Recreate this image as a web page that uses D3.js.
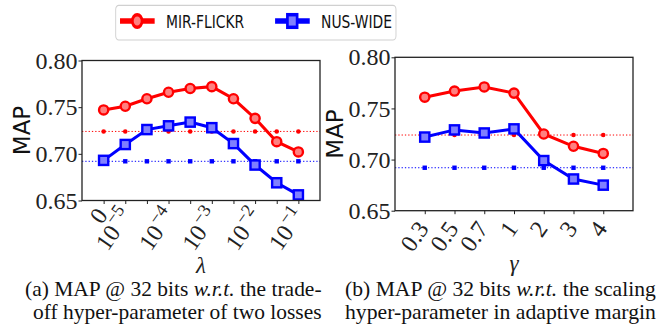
<!DOCTYPE html>
<html><head><meta charset="utf-8">
<script src="https://cdn.jsdelivr.net/npm/d3@7"></script>
<style>body{margin:0;background:#fff}svg{display:block}
.serif{font-family:"Liberation Serif","Times New Roman",serif}
.sans{font-family:"DejaVu Sans",sans-serif}
</style>
</head><body>
<svg id="c" width="661" height="325"></svg>
<script>
// ---- data ----
const seriesNames = ["MIR-FLICKR", "NUS-WIDE"];
const lambdaCats = ["0","1e-5","5e-5","1e-4","5e-4","1e-3","5e-3","1e-2","5e-2","1e-1"];
const lambdaTickLabels = [["0",""],["10","−5"],null,["10","−4"],null,["10","−3"],null,["10","−2"],null,["10","−1"]];
const mirLambda = [0.747,0.751,0.759,0.766,0.770,0.772,0.759,0.738,0.713,0.702];
const nusLambda = [0.693,0.710,0.726,0.730,0.734,0.728,0.711,0.688,0.669,0.656];
const gammaCats = ["0.3","0.5","0.7","1","2","3","4"];
const mirGamma = [0.761,0.767,0.771,0.765,0.725,0.713,0.706];
const nusGamma = [0.722,0.729,0.726,0.730,0.699,0.681,0.675];
const mirBaseline = 0.724;
const nusBaseline = 0.692;
const yTicks = [0.65,0.70,0.75,0.80];

const RED = "#ff0000", BLUE = "#0000ff";
const svg = d3.select("#c");

function panel(opt){
  const g = svg.append("g");
  const n = opt.cats.length;
  const x = d3.scaleLinear().domain([-1, n]).range([opt.x0, opt.x1]);
  const y = d3.scaleLinear().domain([0.65, 0.80]).range([opt.y0, opt.y1]);
  // reference dotted lines
  [[mirBaseline, RED, "c"], [nusBaseline, BLUE, "s"]].forEach(([v, col, shp]) => {
    g.append("line").attr("x1", opt.x0).attr("x2", opt.x1)
      .attr("y1", y(v)).attr("y2", y(v))
      .attr("stroke", col).attr("stroke-width", 1).attr("stroke-dasharray", "1.3,2");
    opt.cats.forEach((c, i) => {
      if (shp === "c") g.append("circle").attr("cx", x(i)).attr("cy", y(v)).attr("r", 2.3).attr("fill", col);
      else g.append("rect").attr("x", x(i)-2.2).attr("y", y(v)-2.2).attr("width", 4.4).attr("height", 4.4).attr("fill", col);
    });
  });
  const line = d3.line().x((d,i)=>x(i)).y(d=>y(d));
  g.append("path").datum(opt.mir).attr("d", line).attr("fill","none").attr("stroke",RED).attr("stroke-width",3);
  g.selectAll(null).data(opt.mir).enter().append("circle")
    .attr("cx",(d,i)=>x(i)).attr("cy",d=>y(d)).attr("r",4.6)
    .attr("fill","#ff8080").attr("stroke",RED).attr("stroke-width",2.4);
  g.append("path").datum(opt.nus).attr("d", line).attr("fill","none").attr("stroke",BLUE).attr("stroke-width",3);
  g.selectAll(null).data(opt.nus).enter().append("rect")
    .attr("x",(d,i)=>x(i)-4.6).attr("y",d=>y(d)-4.6).attr("width",9.2).attr("height",9.2)
    .attr("fill","#8080ff").attr("stroke",BLUE).attr("stroke-width",2.4);
  // frame
  g.append("rect").attr("x",opt.x0).attr("y",opt.y1).attr("width",opt.x1-opt.x0).attr("height",opt.y0-opt.y1)
    .attr("fill","none").attr("stroke","#222").attr("stroke-width",1.3);
  // y axis
  const ya = g.append("g").attr("transform",`translate(${opt.x0},0)`)
    .call(d3.axisLeft(y).tickValues(yTicks).tickFormat(d3.format(".2f")).tickSize(3.5).tickPadding(1));
  ya.select(".domain").remove();
  ya.attr("font-family", null).attr("font-size", null);
  ya.selectAll("text").attr("class","serif").style("font-size","24px").attr("fill","#222");
  // x axis
  const xa = g.append("g").attr("transform",`translate(0,${opt.y0})`)
    .call(d3.axisBottom(x).tickValues(d3.range(n)).tickFormat("").tickSize(3.5));
  xa.select(".domain").remove();
  xa.selectAll("line").attr("stroke","#222");
  ya.selectAll("line").attr("stroke","#222");
  // x tick labels
  opt.labels.forEach((lab, i) => {
    if (!lab) return;
    const sup = !!lab[1];
    const t = g.append("text").attr("class","serif")
      .attr("transform",`translate(${x(i)+(sup?opt.lxs:opt.lx)},${opt.y0+(sup?opt.lys:opt.ly)}) rotate(-55)`)
      .attr("text-anchor","end").style("font-size","24px").attr("fill","#222");
    t.append("tspan").text(lab[0]);
    if (sup) t.append("tspan").style("font-size","18px").attr("dx",1.5).attr("dy",-10).text(lab[1]);
  });
  // y label
  g.append("text").attr("transform",`translate(${opt.mapX},${(opt.y0+opt.y1)/2}) rotate(-90)`)
    .attr("text-anchor","middle").attr("class","sans").style("font-size","23px")
    .attr("fill","#111").text("MAP");
  // x label
  g.append("text").attr("x",(opt.x0+opt.x1)/2).attr("y",opt.xlY).attr("text-anchor","middle")
    .attr("class","serif").style("font-style","italic").style("font-size","23px")
    .attr("fill","#222").text(opt.xlabel);
}

panel({cats: lambdaCats, labels: lambdaTickLabels, mir: mirLambda, nus: nusLambda,
  x0: 82, x1: 320, y0: 200.5, y1: 60.5, lx: 5, ly: 15, lxs: 8, lys: 15, mapX: 30, xlabel: "λ", xlY: 273});
panel({cats: gammaCats, labels: gammaCats.map(c=>[c,""]), mir: mirGamma, nus: nusGamma,
  x0: 395, x1: 633, y0: 210.7, y1: 57.3, lx: 5, ly: 18, lxs: 5, lys: 18, mapX: 343, xlabel: "γ", xlY: 271});

// legend (horizontally compressed like the reference)
const lg = svg.append("g").attr("transform","translate(115.7,5.3) scale(0.77,1)");
lg.append("rect").attr("x",0).attr("y",0).attr("width",364).attr("height",34.7).attr("rx",4)
  .attr("fill","#fff").attr("stroke","#d0d0d0").attr("stroke-width",1.2);
const legItems = [
  {name: seriesNames[0], col: RED, shp: "c", x: 5.6},
  {name: seriesNames[1], col: BLUE, shp: "s", x: 207}
];
legItems.forEach(it => {
  lg.append("line").attr("x1",it.x).attr("x2",it.x+45).attr("y1",15.7).attr("y2",15.7)
    .attr("stroke",it.col).attr("stroke-width",5.5);
  if (it.shp === "c") lg.append("ellipse").attr("cx",it.x+22.3).attr("cy",15.7).attr("rx",6.3).attr("ry",6.3)
    .attr("fill","#ff8080").attr("stroke",it.col).attr("stroke-width",3.5);
  else lg.append("rect").attr("x",it.x+22.3-6.3).attr("y",15.7-6.3).attr("width",12.6).attr("height",12.6)
    .attr("fill","#8080ff").attr("stroke",it.col).attr("stroke-width",3.5);
  lg.append("text").attr("x",it.x+59.7).attr("y",22.6).attr("class","sans")
    .style("font-size","18px").attr("fill","#111").text(it.name);
});

// captions
function caption(parts, x0, x1, yb){
  const t = svg.append("text").attr("x",0).attr("y",yb).attr("class","serif")
    .style("font-size","21px").attr("fill","#111");
  parts.forEach(p => t.append("tspan").style("font-style", p[1] ? "italic" : "normal").text(p[0]));
  const w = t.node().getComputedTextLength();
  t.attr("transform",`translate(${x0},0) scale(${(x1-x0)/w},1)`);
}
caption([["(a) MAP @ 32 bits ",0],["w.r.t.",1],[" the trade-",0]], 25, 321.7, 296.5);
caption([["off hyper-parameter of two losses",0]], 33, 321.7, 319.5);
caption([["(b) MAP @ 32 bits ",0],["w.r.t.",1],[" the scaling",0]], 345, 656, 296.5);
caption([["hyper-parameter in adaptive margin",0]], 345, 656, 319.5);
</script>
</body></html>
